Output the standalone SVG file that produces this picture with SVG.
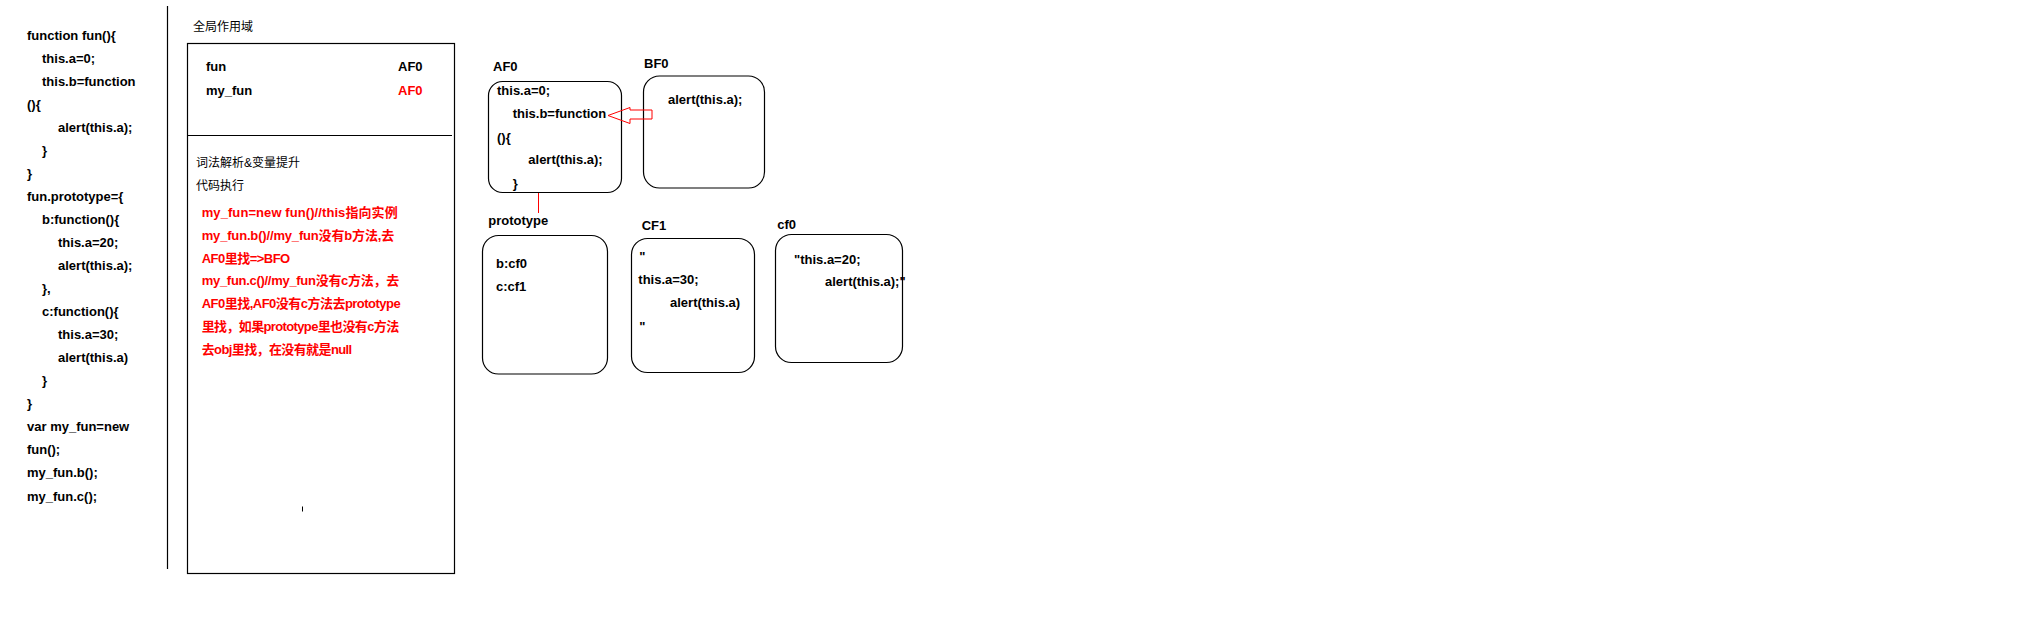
<svg xmlns="http://www.w3.org/2000/svg" width="2044" height="644" viewBox="0 0 2044 644">
<style>
text{font-family:"Liberation Sans","Noto Sans CJK SC",sans-serif;font-size:13px;font-weight:bold;fill:#000}
.cn{font-weight:normal;font-size:12px}
.red{fill:#ff0000}
.box{fill:none;stroke:#000;stroke-width:1.2}
.conn{fill:none;stroke:#ff0000;stroke-width:1}
</style>
<rect width="2044" height="644" fill="#fff"/>
<g id="code">
<text x="27" y="39.5">function fun(){</text>
<text x="42" y="62.5">this.a=0;</text>
<text x="42" y="85.6">this.b=function</text>
<text x="27" y="108.6">(){</text>
<text x="58" y="131.7">alert(this.a);</text>
<text x="42" y="154.7">}</text>
<text x="27" y="177.8">}</text>
<text x="27" y="200.8">fun.prototype={</text>
<text x="42" y="223.9">b:function(){</text>
<text x="58" y="246.9">this.a=20;</text>
<text x="58" y="270">alert(this.a);</text>
<text x="42" y="293">},</text>
<text x="42" y="316.1">c:function(){</text>
<text x="58" y="339.1">this.a=30;</text>
<text x="58" y="362.2">alert(this.a)</text>
<text x="42" y="385.2">}</text>
<text x="27" y="408.3">}</text>
<text x="27" y="431.3">var my_fun=new</text>
<text x="27" y="454.4">fun();</text>
<text x="27" y="477.4">my_fun.b();</text>
<text x="27" y="500.5">my_fun.c();</text>
<line x1="167.5" y1="6" x2="167.5" y2="569" stroke="#000" stroke-width="1.2"/>
</g>
<g id="global-scope">
<text class="cn" x="193" y="31">全局作用域</text>
<rect class="box" x="187.5" y="43.5" width="267" height="530" stroke-width="1.4"/>
<line x1="187.5" y1="135.5" x2="452" y2="135.5" stroke="#000" stroke-width="1.2"/>
<text x="206" y="71">fun</text>
<text x="398" y="71">AF0</text>
<text x="206" y="94.5">my_fun</text>
<text class="red" x="398" y="94.5">AF0</text>
<text class="cn" x="196" y="167">词法解析&amp;变量提升</text>
<text class="cn" x="196" y="189.5">代码执行</text>
<text class="red" x="201.7" y="216.8" textLength="196" lengthAdjust="spacing">my_fun=new fun()//this指向实例</text>
<text class="red" x="201.7" y="239.6" textLength="192.5" lengthAdjust="spacing">my_fun.b()//my_fun没有b方法,去</text>
<text class="red" x="201.7" y="262.5" textLength="88.5" lengthAdjust="spacing">AF0里找=&gt;BFO</text>
<text class="red" x="201.7" y="285.4" textLength="197.5" lengthAdjust="spacing">my_fun.c()//my_fun没有c方法，去</text>
<text class="red" x="201.7" y="308.2" textLength="199" lengthAdjust="spacing">AF0里找,AF0没有c方法去prototype</text>
<text class="red" x="201.7" y="331" textLength="197.5" lengthAdjust="spacing">里找，如果prototype里也没有c方法</text>
<text class="red" x="201.7" y="353.9" textLength="150.5" lengthAdjust="spacing">去obj里找，在没有就是null</text>
<line x1="302.5" y1="506.5" x2="302.5" y2="511.5" stroke="#000" stroke-width="1"/>
</g>
<g id="AF0">
<text x="493" y="70.5">AF0</text>
<rect class="box" x="488.5" y="81.5" width="133" height="111" rx="14"/>
<text x="497" y="95.2">this.a=0;</text>
<text x="512.7" y="118">this.b=function</text>
<text x="497" y="141.5">(){</text>
<text x="528.3" y="164">alert(this.a);</text>
<text x="512.7" y="187.5">}</text>
</g>
<g id="BF0">
<text x="644" y="67.8">BF0</text>
<rect class="box" x="643.5" y="76" width="121" height="112" rx="16"/>
<text x="668" y="103.5">alert(this.a);</text>
</g>
<g id="prototype">
<text x="488.3" y="225">prototype</text>
<rect class="box" x="482.5" y="235.5" width="125" height="138.5" rx="16"/>
<text x="496" y="267.8">b:cf0</text>
<text x="496" y="291.2">c:cf1</text>
</g>
<g id="CF1">
<text x="641.7" y="229.5">CF1</text>
<rect class="box" x="631.5" y="238.5" width="123" height="134" rx="16"/>
<text x="639.3" y="261">"</text>
<text x="638.3" y="284.2">this.a=30;</text>
<text x="670" y="307.4">alert(this.a)</text>
<text x="639.3" y="330.6">"</text>
</g>
<g id="cf0">
<text x="777.3" y="228.8">cf0</text>
<rect class="box" x="775.5" y="234.5" width="127" height="128" rx="16"/>
<text x="794" y="263.8">"this.a=20;</text>
<text x="825" y="286.2">alert(this.a);"</text>
</g>
<g id="connectors">
<polygon class="conn" points="608,115.5 630,107.5 630,110 652,110 652,119 630,119 630,123.5"/>
<line class="conn" x1="538.5" y1="193" x2="538.5" y2="213"/>
</g>
</svg>
